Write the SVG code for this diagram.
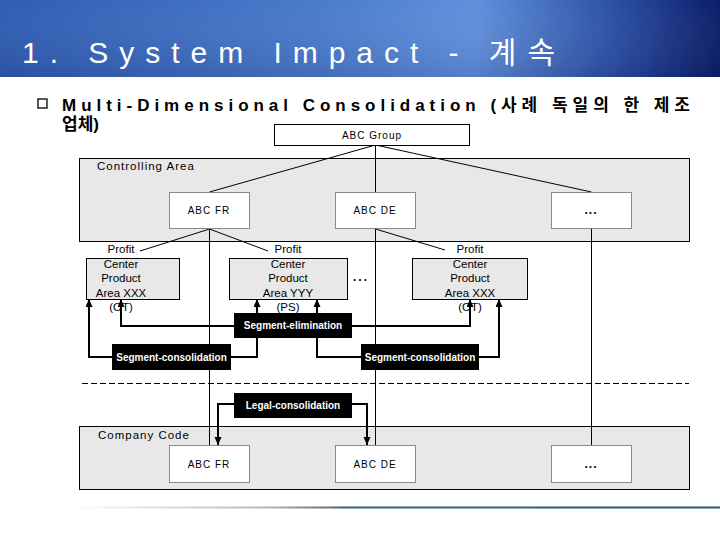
<svg xmlns="http://www.w3.org/2000/svg" width="720" height="540" viewBox="0 0 720 540">
<defs>
<linearGradient id="hdr" x1="0" y1="0" x2="1" y2="0">
<stop offset="0" stop-color="#2f5cb2"/>
<stop offset="0.45" stop-color="#4a7bcc"/>
<stop offset="0.66" stop-color="#6090dc"/>
<stop offset="0.85" stop-color="#2c50a6"/>
<stop offset="1" stop-color="#0b1d68"/>
</linearGradient>
<linearGradient id="hdrv" x1="0" y1="0" x2="0" y2="1">
<stop offset="0" stop-color="#ffffff" stop-opacity="0"/>
<stop offset="1" stop-color="#000030" stop-opacity="0.12"/>
</linearGradient>
<linearGradient id="foot" gradientUnits="userSpaceOnUse" x1="70" y1="0" x2="720" y2="0">
<stop offset="0" stop-color="#ffffff"/>
<stop offset="0.3" stop-color="#b8b8b8"/>
<stop offset="0.4" stop-color="#6a7078"/>
<stop offset="0.42" stop-color="#2a6a84"/>
<stop offset="1" stop-color="#1d5a78"/>
</linearGradient>
<marker id="ah" markerWidth="8" markerHeight="8" refX="8" refY="3.5" orient="auto" markerUnits="userSpaceOnUse">
<path d="M0,0 L8,3.5 L0,7 z" fill="#000"/>
</marker>
<style>
.t{font-family:"Liberation Sans","Noto Sans CJK KR",sans-serif;fill:#000}
.area{fill:#e8e8e8;stroke:#000;stroke-width:1}
.node{fill:#fff;stroke:#8a8a8a;stroke-width:1}
.pc{fill:#e8e8e8;stroke:#000;stroke-width:1}
.blk{fill:#000}
.wt{font-family:"Liberation Sans",sans-serif;fill:#fff;font-size:10px;font-weight:bold}
.tree{stroke:#000;stroke-width:1;fill:none}
.arr{stroke:#000;stroke-width:2;fill:none;marker-end:url(#ah)}
.lbl{font-size:10px;letter-spacing:1px}
.pct{font-size:11.5px;text-anchor:middle}
</style>
</defs>

<g id="header">
<rect x="0" y="0" width="720" height="77" fill="url(#hdr)"/>
<rect x="0" y="0" width="720" height="77" fill="url(#hdrv)"/>
<text x="22" y="63" font-family="Liberation Sans, Noto Sans CJK KR, sans-serif" font-size="30" fill="#fff" textLength="533" lengthAdjust="spacing">1. System Impact - 계속</text>
</g>

<g id="subtitle">
<rect x="38" y="99" width="9" height="9" fill="none" stroke="#000" stroke-width="1.3"/>
<text class="t" x="62" y="111" font-size="17" font-weight="bold" textLength="628" lengthAdjust="spacing">Multi-Dimensional Consolidation (사례 독일의 한 제조</text>
<text class="t" x="62" y="130" font-size="17" font-weight="bold">업체)</text>
</g>

<g id="controlling-area">
<rect class="area" x="79.5" y="158.5" width="610" height="83"/>
<text class="t" x="97" y="170" font-size="11.5" letter-spacing="1">Controlling Area</text>
</g>
<g id="company-code-area">
<rect class="area" x="79.5" y="426.5" width="610" height="63"/>
<text class="t" x="98" y="439" font-size="11.5" letter-spacing="1">Company Code</text>
</g>

<line x1="82" y1="383.5" x2="689" y2="383.5" stroke="#000" stroke-width="1" stroke-dasharray="6,3"/>

<g id="connectors">
<path class="tree" d="M375.5,145 L209.5,192 M375.5,145 V192 M375.5,145 L591.5,192"/>
<path class="tree" d="M209.5,229 L140,251 M209.5,229 L268,251 M375.5,229 L445,250"/>
<path class="tree" d="M209.5,229 V445 M375.5,229 V445 M591.5,229 V445"/>
<path class="arr" d="M112,357 H89 V299"/>
<path class="arr" d="M234,326 H121 V299"/>
<path class="arr" d="M231,357 H257 V299"/>
<path class="arr" d="M361,357 H317 V299"/>
<path class="arr" d="M352,326 H470 V299"/>
<path class="arr" d="M479,357 H499 V299"/>
<path class="arr" d="M234,404 H218 V445"/>
<path class="arr" d="M352,404 H367 V445"/>
</g>

<g id="abc-group">
<rect x="274.5" y="124.5" width="195" height="21" fill="#fff" stroke="#000" stroke-width="1"/>
<text class="t lbl" x="372" y="139" text-anchor="middle" font-size="11">ABC Group</text>
</g>

<g id="ca-abc-fr">
<rect class="node" x="169.5" y="192.5" width="80" height="36"/>
<text class="t lbl" x="209" y="214" text-anchor="middle">ABC FR</text>
</g>
<g id="ca-abc-de">
<rect class="node" x="335.5" y="192.5" width="80" height="36"/>
<text class="t lbl" x="375" y="214" text-anchor="middle">ABC DE</text>
</g>
<g id="ca-more">
<rect class="node" x="551.5" y="192.5" width="80" height="36"/>
<text class="t" x="591" y="214" text-anchor="middle" font-size="12" font-weight="bold" letter-spacing="1">...</text>
</g>

<g id="pc1">
<rect class="pc" x="86.5" y="258.5" width="93" height="41"/>
<text class="t pct" x="121" y="253">Profit</text>
<text class="t pct" x="121" y="268">Center</text>
<text class="t pct" x="121" y="282">Product</text>
<text class="t pct" x="121" y="297">Area XXX</text>
<text class="t pct" x="121" y="311">(OT)</text>
</g>
<g id="pc2">
<rect class="pc" x="229.5" y="258.5" width="118" height="41"/>
<text class="t pct" x="288" y="253">Profit</text>
<text class="t pct" x="288" y="268">Center</text>
<text class="t pct" x="288" y="282">Product</text>
<text class="t pct" x="288" y="297">Area YYY</text>
<text class="t pct" x="288" y="311">(PS)</text>
</g>
<text class="t" x="361" y="281" text-anchor="middle" font-size="12" font-weight="bold" letter-spacing="2">...</text>
<g id="pc3">
<rect class="pc" x="412.5" y="258.5" width="115" height="41"/>
<text class="t pct" x="470" y="253">Profit</text>
<text class="t pct" x="470" y="268">Center</text>
<text class="t pct" x="470" y="282">Product</text>
<text class="t pct" x="470" y="297">Area XXX</text>
<text class="t pct" x="470" y="311">(OT)</text>
</g>

<g id="segment-elimination">
<rect class="blk" x="234" y="313" width="118" height="25"/>
<text class="wt" x="293" y="329" text-anchor="middle">Segment-elimination</text>
</g>
<g id="segment-consolidation-left">
<rect class="blk" x="112" y="344" width="119" height="26"/>
<text class="wt" x="171.5" y="361" text-anchor="middle">Segment-consolidation</text>
</g>
<g id="segment-consolidation-right">
<rect class="blk" x="361" y="344" width="118" height="26"/>
<text class="wt" x="420" y="361" text-anchor="middle">Segment-consolidation</text>
</g>
<g id="legal-consolidation">
<rect class="blk" x="234" y="393" width="118" height="25"/>
<text class="wt" x="293" y="409" text-anchor="middle">Legal-consolidation</text>
</g>

<g id="cc-abc-fr">
<rect class="node" x="169.5" y="445.5" width="80" height="37"/>
<text class="t lbl" x="209" y="468" text-anchor="middle">ABC FR</text>
</g>
<g id="cc-abc-de">
<rect class="node" x="335.5" y="445.5" width="80" height="37"/>
<text class="t lbl" x="375" y="468" text-anchor="middle">ABC DE</text>
</g>
<g id="cc-more">
<rect class="node" x="551.5" y="445.5" width="80" height="37"/>
<text class="t" x="591" y="468" text-anchor="middle" font-size="12" font-weight="bold" letter-spacing="1">...</text>
</g>

<rect x="70" y="506.5" width="650" height="2" fill="url(#foot)"/>
</svg>
